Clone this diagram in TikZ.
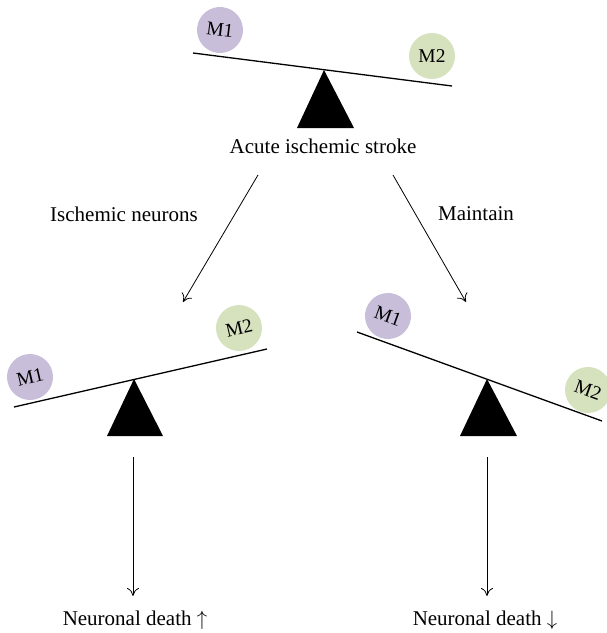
\documentclass[tikz,border=0pt]{standalone}
\usepackage{fontspec}
\setmainfont{Liberation Serif}
\usetikzlibrary{arrows.meta}
\definecolor{ballonecol}{RGB}{201,190,218}
\definecolor{balltwocol}{RGB}{214,226,190}
\begin{document}
\begin{tikzpicture}[x=1pt,y=-1pt,
  beam/.style={line width=1.3pt},
  pivot/.style={fill=black},
  ball/.style={circle, minimum size=46pt, inner sep=0pt, font=\fontsize{19.5}{20}\selectfont},
  ballone/.style={ball, fill=ballonecol},
  balltwo/.style={ball, fill=balltwocol},
  lbl/.style={font=\fontsize{21}{24}\selectfont},
  conn/.style={-{To[length=8pt,width=12pt]}, line width=0.8pt}]
\useasboundingbox (0,0) rectangle (607,633);

% top balance
\node[ballone, rotate=-7] (t1) at (220,30) {M1};
\node[balltwo] (t2) at (432,56) {M2};
\coordinate (tbl) at (193,53);
\coordinate (tbr) at (452,86);
\coordinate (tap) at (324,70);
\draw[beam] (tbl) -- (tbr);
\fill[pivot] (tap) -- (297,128) -- (354,128) -- cycle;
\node[lbl] (stroke) at (323,146) {Acute ischemic stroke};

% diagonal arrows
\coordinate (ls) at (258,175);
\coordinate (le) at (183,302);
\coordinate (rs) at (393,175);
\coordinate (re) at (466,302);
\draw[conn] (ls) -- (le);
\draw[conn] (rs) -- (re);
\node[lbl] (isch) at (124,214) {Ischemic neurons};
\node[lbl] (maint) at (476,214) {Maintain};

% left balance
\node[ballone, rotate=13] (l1) at (30,377) {M1};
\node[balltwo, rotate=13] (l2) at (239,328) {M2};
\coordinate (lbl) at (14,407);
\coordinate (lbr) at (267,349);
\coordinate (lap) at (134,379);
\draw[beam] (lbl) -- (lbr);
\fill[pivot] (lap) -- (107,436) -- (163,436) -- cycle;

% right balance
\node[ballone, rotate=-20] (r1) at (388,316) {M1};
\node[balltwo, rotate=-20] (r2) at (588,390) {M2};
\coordinate (rbl) at (357,332);
\coordinate (rbr) at (602,421);
\coordinate (rap) at (487,379);
\draw[beam] (rbl) -- (rbr);
\fill[pivot] (rap) -- (460,436) -- (517,436) -- cycle;

% vertical arrows
\coordinate (lvs) at (133,457);
\coordinate (rvs) at (487,457);
\node[lbl] (dup) at (135,620) {Neuronal death $\uparrow$};
\node[lbl] (ddown) at (485,620) {Neuronal death $\downarrow$};
\draw[conn] (lvs) -- (lvs |- 0,596);
\draw[conn] (rvs) -- (rvs |- 0,596);
\end{tikzpicture}
\end{document}
